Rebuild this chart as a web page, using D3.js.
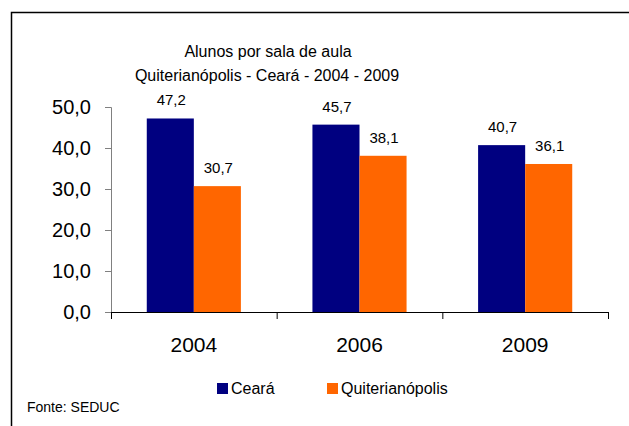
<!DOCTYPE html>
<html>
<head>
<meta charset="utf-8">
<script src="https://cdn.jsdelivr.net/npm/d3@7"></script>
<style>
  body { margin: 0; background: white; }
  text { font-family: Arial, "Liberation Sans", sans-serif; fill: black; }
</style>
</head>
<body>
<div id="grafico"></div>
<script>
// dados
var anos = ["2004", "2006", "2009"];
var series = ["Ceará", "Quiterianópolis"];
var ceara = [47.2, 45.7, 40.7];
var quiterianopolis = [30.7, 38.1, 36.1];
var ticksY = [0, 10, 20, 30, 40, 50];
var cores = ["#000080", "#FF6600"];

var margem = {top: 107, right: 21, bottom: 114, left: 111};
var width = 629 - margem.left - margem.right;
var height = 426 - margem.top - margem.bottom;

const svg = d3.select("#grafico")
    .append("svg")
        .attr("width", 629)
        .attr("height", 426);

// moldura
svg.append("rect")
    .attr("x", 11.5).attr("y", 12.5)
    .attr("width", 700).attr("height", 500)
    .style("fill", "none")
    .style("stroke", "black")
    .style("stroke-width", 1.5);

// titulo
svg.append("text")
    .attr("x", 268).attr("y", 57)
    .attr("text-anchor", "middle")
    .style("font-size", "16px")
    .text("Alunos por sala de aula");
svg.append("text")
    .attr("x", 267).attr("y", 81)
    .attr("text-anchor", "middle")
    .style("font-size", "16px")
    .text("Quiterianópolis - Ceará - 2004 - 2009");

var g = svg.append("g")
    .attr("transform", "translate(" + margem.left + "," + margem.top + ")");

var xVerdi = d3.scaleBand()
    .domain(anos)
    .range([0, width])
    .paddingInner(0)
    .paddingOuter(0);

var xSerie = d3.scaleBand()
    .domain(series)
    .range([0, xVerdi.bandwidth()])
    .paddingInner(0)
    .paddingOuter(0.76);

var yVerdi = d3.scaleLinear()
    .domain([0, 50])
    .range([height, 0]);

var dados = anos.map(function(a, i) {
    return {ano: a, valores: [
        {serie: series[0], v: ceara[i]},
        {serie: series[1], v: quiterianopolis[i]}
    ]};
});

// barras
var grupos = g.selectAll(".grupo")
    .data(dados)
    .enter()
    .append("g")
    .attr("class", "grupo")
    .attr("transform", function(d) { return "translate(" + xVerdi(d.ano) + ",0)"; });

grupos.selectAll("rect")
    .data(function(d) { return d.valores; })
    .enter()
    .append("rect")
    .attr("x", function(d) { return xSerie(d.serie); })
    .attr("y", function(d) { return yVerdi(d.v); })
    .attr("width", xSerie.bandwidth())
    .attr("height", function(d) { return height - yVerdi(d.v); })
    .style("fill", function(d, i) { return cores[i]; });

// rotulos
grupos.selectAll(".rotulo")
    .data(function(d) { return d.valores; })
    .enter()
    .append("text")
    .attr("class", "rotulo")
    .attr("x", function(d) { return xSerie(d.serie) + xSerie.bandwidth() / 2 + 1; })
    .attr("y", function(d) { return yVerdi(d.v) - 13; })
    .attr("text-anchor", "middle")
    .style("font-size", "15px")
    .text(function(d) { return d.v.toFixed(1).replace(".", ","); });

// eixo y
var eixoY = g.append("g")
    .call(d3.axisLeft(yVerdi)
        .tickValues(ticksY)
        .tickSize(6)
        .tickPadding(14)
        .tickFormat(function(d) { return d.toFixed(1).replace(".", ","); }));
eixoY.select(".domain").attr("stroke", "#808080").attr("d", "M-6,0.5H0.5V" + (height + 6));
eixoY.selectAll(".tick line").attr("stroke", "#808080");
eixoY.selectAll("text")
    .style("font-size", "20px")
    .attr("font-family", null);

// eixo x
var eixoX = g.append("g")
    .attr("transform", "translate(0," + height + ")");
eixoX.append("path")
    .attr("d", "M0,0.5H" + width)
    .attr("stroke", "black")
    .attr("fill", "none");
eixoX.selectAll(".marca")
    .data(d3.range(anos.length + 1))
    .enter()
    .append("line")
    .attr("x1", function(i) { return i * xVerdi.bandwidth() + 0.5; })
    .attr("x2", function(i) { return i * xVerdi.bandwidth() + 0.5; })
    .attr("y1", 0)
    .attr("y2", 7)
    .attr("stroke", "black");
eixoX.selectAll(".ano")
    .data(anos)
    .enter()
    .append("text")
    .attr("x", function(d) { return xVerdi(d) + xVerdi.bandwidth() / 2; })
    .attr("y", 40)
    .attr("text-anchor", "middle")
    .style("font-size", "21px")
    .text(function(d) { return d; });

// legenda
var legenda = svg.append("g");
var posLeg = [217, 327];
series.forEach(function(s, i) {
    legenda.append("rect")
        .attr("x", posLeg[i]).attr("y", 383)
        .attr("width", 11).attr("height", 11)
        .style("fill", cores[i]);
    legenda.append("text")
        .attr("x", posLeg[i] + 14).attr("y", 394)
        .style("font-size", "16px")
        .text(s);
});

// fonte
svg.append("text")
    .attr("x", 27).attr("y", 412)
    .style("font-size", "14px")
    .text("Fonte: SEDUC");
</script>
</body>
</html>
